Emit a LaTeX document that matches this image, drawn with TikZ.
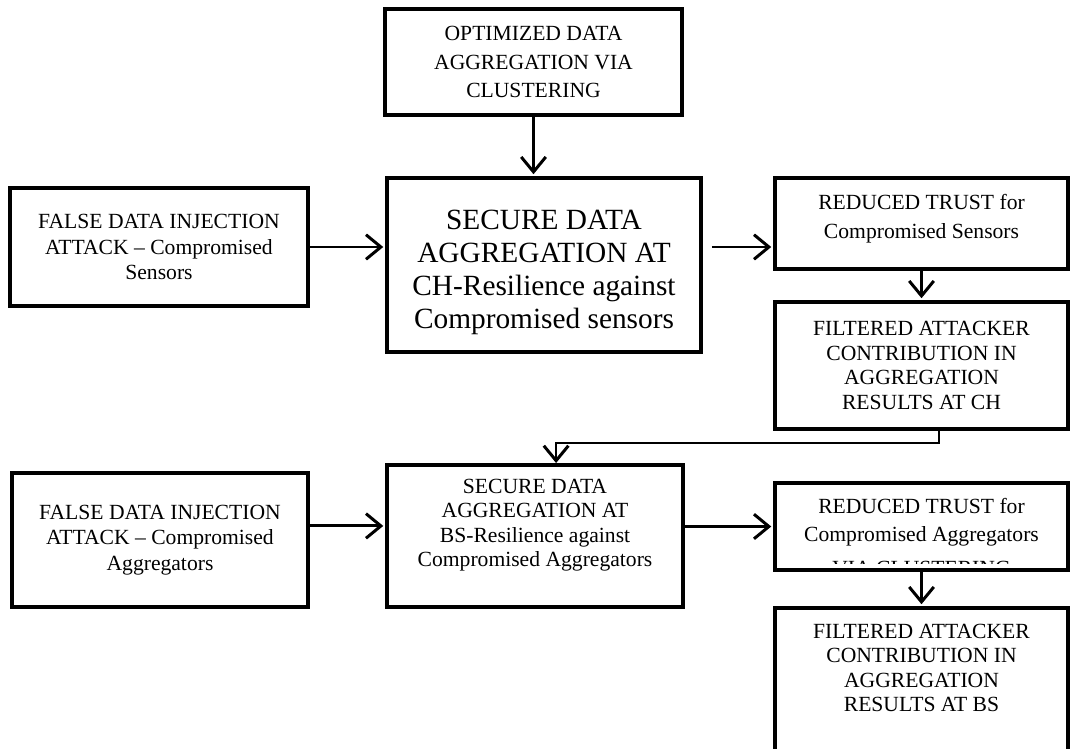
\documentclass[tikz,border=0pt]{standalone}
\usepackage{fontspec}
\setmainfont{Liberation Serif}
\usetikzlibrary{arrows.meta}
\tikzset{
    block/.style={draw, line width=2.3pt, align=center, inner sep=1pt, font=\fontsize{12.3}{14.5}\selectfont}, % the boxes
    arrow/.style={line width=1.7pt, -{Straight Barb[length=8.5pt, width=14pt, line width=1.7pt]}, shorten >=1pt},
    link/.style={line width=0.7pt, -{Straight Barb[length=8.5pt, width=14pt, line width=1.7pt]}},
}
\newcommand{\lift}[1]{\rule[-#1]{0pt}{0pt}} % extra depth, pushes text up

\begin{document}
\begin{tikzpicture}[x=0.02cm, y=-0.02cm]

    \clip (0,0) rectangle (1070,749);

    % Blocchi
    \node[block, minimum width=5.94cm, minimum height=2.12cm, font=\fontsize{12.3}{16}\selectfont] (opt) at (533.5,62) {OPTIMIZED DATA\\AGGREGATION VIA\\CLUSTERING};
    \node[block, minimum width=5.96cm, minimum height=2.36cm] (fdi1) at (159,247) {FALSE DATA INJECTION\\ATTACK – Compromised\\Sensors};
    \node[block, minimum width=6.28cm, minimum height=3.48cm, font=\fontsize{16.7}{18.8}\selectfont] (sdach) at (544,265) {\rule{0pt}{20pt}SECURE DATA\\AGGREGATION AT\\CH-Resilience against\\Compromised sensors};
    \node[block, minimum width=5.86cm, minimum height=1.82cm, font=\fontsize{12.3}{16.5}\selectfont] (rt1) at (921.5,223.5) {REDUCED TRUST for\\Compromised Sensors\lift{8pt}};
    \node[block, minimum width=5.86cm, minimum height=2.54cm, font=\fontsize{12.3}{14}\selectfont] (filt1) at (921.5,365.5) {FILTERED ATTACKER\\CONTRIBUTION IN\\AGGREGATION\\RESULTS AT CH};

    \node[block, minimum width=5.92cm, minimum height=2.68cm] (fdi2) at (160,540) {FALSE DATA INJECTION\\ATTACK – Compromised\\Aggregators};
    \node[block, minimum width=5.92cm, minimum height=2.84cm, font=\fontsize{12.3}{13.8}\selectfont] (sdabs) at (535,536) {SECURE DATA\\AGGREGATION AT\\BS-Resilience against\\Compromised Aggregators\lift{15pt}};
    \node[block, minimum width=5.86cm, minimum height=1.74cm, font=\fontsize{12.3}{16}\selectfont] (rt2) at (921.5,526.5) {REDUCED TRUST for\\Compromised Aggregators\lift{8pt}};
    \begin{scope}
        \clip (775,483) rectangle (1068,563);
        \node[font=\fontsize{12.3}{14}\selectfont] (rt2via) at (921.5,569) {VIA CLUSTERING};
    \end{scope}
    \node[block, minimum width=5.86cm, minimum height=3.24cm, font=\fontsize{12.3}{14}\selectfont] (filt2) at (921.5,689) {FILTERED ATTACKER\\CONTRIBUTION IN\\AGGREGATION\\RESULTS AT BS\lift{24pt}};

    % Frecce
    \draw[arrow] (opt.south) -- (opt.south |- sdach.north);
    \draw[arrow] (fdi1.east) -- (fdi1.east -| sdach.west);
    \draw[arrow] ([xshift=5pt]sdach.east |- fdi1.east) -- (rt1.west |- fdi1.east);
    \draw[arrow] (rt1.south) -- (filt1.north);
    \draw[link] ([xshift=10pt]filt1.south) -- ++(0,12) -| ([xshift=12pt]sdabs.north);
    \draw[arrow] ([yshift=8pt]fdi2.east) -- ([yshift=8pt]fdi2.east -| sdabs.west);
    \draw[arrow] (sdabs.east |- rt2.west) -- (rt2.west);
    \draw[arrow] (rt2.south) -- (filt2.north);

\end{tikzpicture}
\end{document}
